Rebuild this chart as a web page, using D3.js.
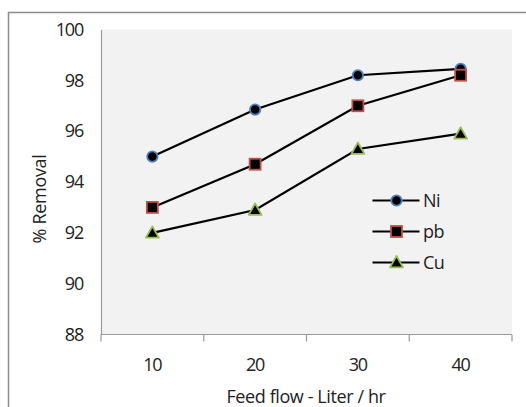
<!DOCTYPE html>
<html>
<head>
<meta charset="utf-8">
<script src="https://cdn.jsdelivr.net/npm/d3@7/dist/d3.min.js"></script>
<style>
  html, body { margin: 0; padding: 0; background: #fff; }
  svg { display: block; }
  text { font-family: "Open Sans", "Noto Sans", sans-serif; fill: #222; }
</style>
</head>
<body>
<svg id="chart" width="526" height="407"></svg>
<script>
// Feed flow (Liter / hr) categories
const flows = ["10", "20", "30", "40"];
// % removal per metal
const ni = [95.0, 96.85, 98.2, 98.45];
const pb = [93.0, 94.7, 97.0, 98.2];
const cu = [92.0, 92.9, 95.3, 95.9];
const yTicks = [88, 90, 92, 94, 96, 98, 100];

const series = [
  { name: "Ni", values: ni, shape: "circle", stroke: "#4f81bd" },
  { name: "pb", values: pb, shape: "square", stroke: "#c0504d" },
  { name: "Cu", values: cu, shape: "triangle", stroke: "#9bbb59" }
];

const svg = d3.select("#chart");
const W = 526, H = 407;
const m = { left: 101, top: 29.5, right: 512, bottom: 334.5 };
const FS = 18;

// outer chart frame (runs off the right and bottom edges)
svg.append("rect")
  .attr("x", 8.5).attr("y", 12.5)
  .attr("width", W).attr("height", H)
  .attr("fill", "none").attr("stroke", "#8c8c8c").attr("stroke-width", 1.5);

const x = d3.scaleBand().domain(flows).range([m.left, m.right]);
const y = d3.scaleLinear().domain([88, 100]).range([m.bottom, m.top]);

// plot area
svg.append("rect")
  .attr("x", m.left).attr("y", m.top)
  .attr("width", m.right - m.left).attr("height", m.bottom - m.top)
  .attr("fill", "#f2f2f2");

// y axis
const yAxis = svg.append("g")
  .attr("transform", `translate(${m.left},0)`)
  .call(d3.axisLeft(y).tickValues(yTicks).tickSize(0).tickPadding(18));
yAxis.select(".domain").attr("stroke", "#9a9a9a").attr("stroke-width", 1.2);
yAxis.selectAll("text").attr("font-size", FS).attr("fill", "#222")
  .style("font-family", "'Open Sans', sans-serif").style("letter-spacing", "-1.2px");

// x axis with ticks on band boundaries
const xAxisG = svg.append("g").attr("transform", `translate(0,${m.bottom})`);
xAxisG.append("line")
  .attr("x1", m.left).attr("x2", m.right)
  .attr("stroke", "#9a9a9a").attr("stroke-width", 1.2);
const bounds = flows.map(f => x(f)).concat([x(flows[flows.length - 1]) + x.bandwidth()]);
xAxisG.selectAll("line.tick").data(bounds).enter().append("line")
  .attr("class", "tick")
  .attr("x1", d => d).attr("x2", d => d)
  .attr("y1", 0).attr("y2", 7)
  .attr("stroke", "#9a9a9a").attr("stroke-width", 1.2);
xAxisG.selectAll("text").data(flows).enter().append("text")
  .attr("x", d => x(d) + x.bandwidth() / 2)
  .attr("y", 36)
  .attr("text-anchor", "middle")
  .attr("font-size", FS)
  .style("letter-spacing", "-1.2px")
  .text(d => d);

// axis titles
svg.append("text")
  .attr("x", 306).attr("y", 403)
  .attr("text-anchor", "middle").attr("font-size", FS)
  .style("letter-spacing", "-0.4px")
  .text("Feed flow - Liter / hr");
svg.append("text")
  .attr("transform", `translate(46,199) rotate(-90)`)
  .attr("text-anchor", "middle").attr("font-size", FS)
  .style("letter-spacing", "-0.3px")
  .text("% Removal");

function drawMarker(g, shape, stroke, cx, cy) {
  if (shape === "circle") {
    g.append("circle").attr("cx", cx).attr("cy", cy).attr("r", 5.2)
      .attr("fill", "#000").attr("stroke", stroke).attr("stroke-width", 1.8);
  } else if (shape === "square") {
    g.append("rect").attr("x", cx - 5.5).attr("y", cy - 5.5)
      .attr("width", 11).attr("height", 11)
      .attr("fill", "#000").attr("stroke", stroke).attr("stroke-width", 1.8);
  } else {
    const s = 6.5;
    g.append("path")
      .attr("d", `M${cx},${cy - s}L${cx + s},${cy + s * 0.75}L${cx - s},${cy + s * 0.75}Z`)
      .attr("fill", "#000").attr("stroke", stroke).attr("stroke-width", 1.8)
      .attr("stroke-linejoin", "round");
  }
}

const line = d3.line()
  .x((d, i) => x(flows[i]) + x.bandwidth() / 2)
  .y(d => y(d));

series.forEach(s => {
  const g = svg.append("g");
  g.append("path").datum(s.values)
    .attr("d", line)
    .attr("fill", "none").attr("stroke", "#000").attr("stroke-width", 2.2);
  s.values.forEach((v, i) => {
    drawMarker(g, s.shape, s.stroke, x(flows[i]) + x.bandwidth() / 2, y(v));
  });
});

// legend
const legend = svg.append("g");
series.forEach((s, i) => {
  const ly = 200.5 + i * 31;
  legend.append("line")
    .attr("x1", 372.5).attr("x2", 419.5).attr("y1", ly).attr("y2", ly)
    .attr("stroke", "#000").attr("stroke-width", 2.2);
  drawMarker(legend, s.shape, s.stroke, 396.5, ly);
  legend.append("text")
    .attr("x", 423).attr("y", ly + 6)
    .attr("font-size", FS)
    .style("letter-spacing", "-0.5px")
    .text(s.name);
});
</script>
</body>
</html>
